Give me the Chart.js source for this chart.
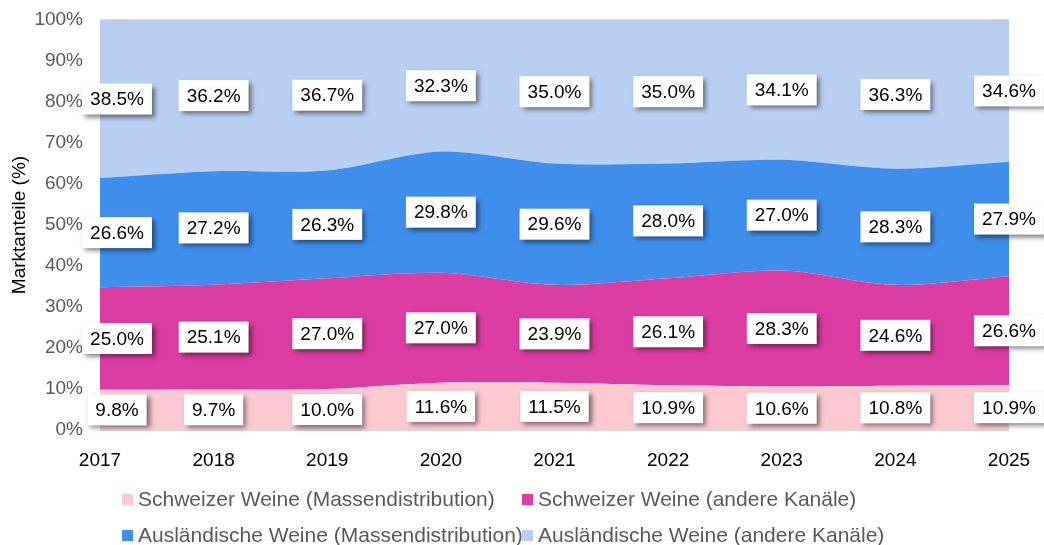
<!DOCTYPE html>
<html>
<head>
<meta charset="utf-8">
<script src="https://cdn.jsdelivr.net/npm/chart.js@4/dist/chart.umd.min.js"></script>
<style>
  html, body { margin: 0; padding: 0; background: #fff; }
  #wrap { width: 1044px; height: 545px; }
</style>
</head>
<body>
<div id="wrap"><canvas id="myChart" width="1044" height="545"></canvas></div>
<script>
const years = ['2017', '2018', '2019', '2020', '2021', '2022', '2023', '2024', '2025'];
const swissMass = [9.8, 9.7, 10.0, 11.6, 11.5, 10.9, 10.6, 10.8, 10.9];
const swissOther = [25.0, 25.1, 27.0, 27.0, 23.9, 26.1, 28.3, 24.6, 26.6];
const foreignMass = [26.6, 27.2, 26.3, 29.8, 29.6, 28.0, 27.0, 28.3, 27.9];
const foreignOther = [38.5, 36.2, 36.7, 32.3, 35.0, 35.0, 34.1, 36.3, 34.6];
const seriesNames = [
  'Schweizer Weine (Massendistribution)',
  'Schweizer Weine (andere Kanäle)',
  'Ausländische Weine (Massendistribution)',
  'Ausländische Weine (andere Kanäle)'
];
const yTicks = ['0%', '10%', '20%', '30%', '40%', '50%', '60%', '70%', '80%', '90%', '100%'];

const raw = [swissMass, swissOther, foreignMass, foreignOther];
const colors = ['#FCC8D2', '#DC3DA3', '#3F8EEB', '#B9CFF1'];
const FONT = "'Liberation Sans', Arial, sans-serif";

// 100% stacked: each year scaled to its total
const totals = years.map((y, j) => raw.reduce((s, arr) => s + arr[j], 0));
const norm = raw.map(arr => arr.map((v, j) => v / totals[j] * 100));

const valueLabels = {
  id: 'valueLabels',
  afterDatasetsDraw(chart) {
    const c = chart.ctx;
    const xs = chart.scales.x, ys = chart.scales.y;
    c.save();
    c.font = '19px ' + FONT;
    c.textAlign = 'center';
    c.textBaseline = 'middle';
    for (let j = 0; j < years.length; j++) {
      let cum = 0;
      for (let i = 0; i < raw.length; i++) {
        const mid = cum + norm[i][j] / 2;
        cum += norm[i][j];
        let x = xs.getPixelForValue(j);
        if (j === 0) x += 17;
        const y = ys.getPixelForValue(mid);
        const txt = raw[i][j].toFixed(1) + '%';
        const w = c.measureText(txt).width + 16, h = 31;
        c.shadowColor = 'rgba(0,0,0,0.5)';
        c.shadowBlur = 5;
        c.shadowOffsetX = 3;
        c.shadowOffsetY = 3;
        c.fillStyle = '#fff';
        c.fillRect(x - w / 2, y - h / 2, w, h);
        c.shadowColor = 'transparent';
        c.fillStyle = '#000';
        c.fillText(txt, x, y + 1);
      }
    }
    c.restore();
  }
};

const gridLegend = {
  id: 'gridLegend',
  afterDraw(chart) {
    const c = chart.ctx;
    const spots = [[122, 500], [522, 500], [122, 536], [522, 536]];
    c.save();
    c.font = '21px ' + FONT;
    c.textBaseline = 'middle';
    chart.data.datasets.forEach((ds, i) => {
      const [x, y] = spots[i];
      c.fillStyle = ds.backgroundColor;
      c.fillRect(x, y - 6, 11, 11);
      c.fillStyle = '#595959';
      c.fillText(ds.label, x + 16, y);
    });
    c.restore();
  }
};

const ctx = document.getElementById('myChart').getContext('2d');
const myChart = new Chart(ctx, {
  type: 'line',
  data: {
    labels: years,
    datasets: norm.map((arr, i) => ({
      label: seriesNames[i],
      data: arr,
      backgroundColor: colors[i],
      borderWidth: 0,
      pointRadius: 0,
      tension: 0.3,
      fill: i === 0 ? 'origin' : '-1'
    }))
  },
  options: {
    responsive: false,
    animation: false,
    layout: { padding: { top: 20, right: 35, bottom: 75, left: 0 } },
    scales: {
      x: {
        offset: false,
        grid: { display: false },
        border: { display: false },
        ticks: { color: '#000', padding: 11, maxRotation: 0, font: { size: 19, family: FONT } },
        afterFit: s => { s.height = 40; }
      },
      y: {
        stacked: true,
        min: 0,
        max: 100,
        afterFit: s => { s.width = 100; s.paddingTop = 0; s.paddingBottom = 0; },
        grid: { color: '#d9d9d9', lineWidth: 2, drawTicks: false },
        border: { display: false },
        ticks: {
          stepSize: 10,
          padding: 17,
          color: '#595959',
          font: { size: 19, family: FONT, lineHeight: 1 },
          callback: (v) => yTicks[Math.round(v / 10)]
        },
        title: {
          display: true,
          text: 'Marktanteile (%)',
          color: '#000',
          padding: { top: 8, bottom: 0 },
          font: { size: 19, family: FONT }
        }
      }
    },
    plugins: {
      legend: { display: false },
      tooltip: { enabled: false }
    }
  },
  plugins: [valueLabels, gridLegend]
});
</script>
</body>
</html>
